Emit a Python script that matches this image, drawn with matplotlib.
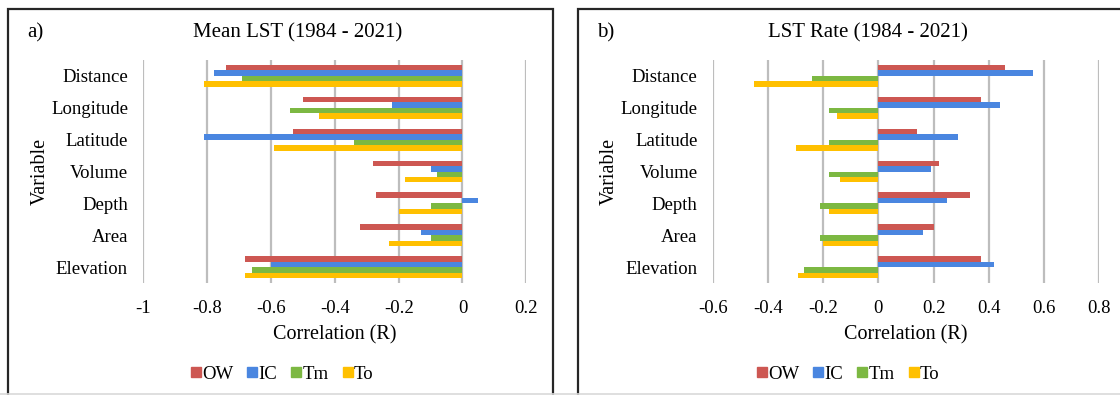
import numpy as np
import matplotlib
matplotlib.use("Agg")
import matplotlib.pyplot as plt
from matplotlib.patches import Rectangle
from matplotlib.lines import Line2D

plt.rcParams['font.family'] = ['Liberation Serif', 'DejaVu Serif']

# categories, top to bottom as in the chart
variables = ["Distance", "Longitude", "Latitude", "Volume", "Depth", "Area", "Elevation"]
series = ["OW", "IC", "Tm", "To"]
colors = ["#CD5752", "#4A86E0", "#7CB842", "#FFC000"]

# a) Mean LST correlation
mean_ow = [-0.74, -0.50, -0.53, -0.28, -0.27, -0.32, -0.68]
mean_ic = [-0.78, -0.22, -0.81, -0.10, 0.05, -0.13, -0.60]
mean_tm = [-0.69, -0.54, -0.34, -0.08, -0.10, -0.10, -0.66]
mean_to = [-0.81, -0.45, -0.59, -0.18, -0.20, -0.23, -0.68]

# b) LST rate correlation
rate_ow = [0.46, 0.37, 0.14, 0.22, 0.33, 0.20, 0.37]
rate_ic = [0.56, 0.44, 0.29, 0.19, 0.25, 0.16, 0.42]
rate_tm = [-0.24, -0.18, -0.18, -0.18, -0.21, -0.21, -0.27]
rate_to = [-0.45, -0.15, -0.30, -0.14, -0.18, -0.20, -0.29]

mean_ticks = [-1, -0.8, -0.6, -0.4, -0.2, 0, 0.2]
rate_ticks = [-0.6, -0.4, -0.2, 0, 0.2, 0.4, 0.6, 0.8]


def draw_panel(ax, data, ticks, title_x, title, letter_x, letter):
  n = len(variables)
  y = np.arange(n)[::-1]
  h = 0.172
  for k in range(len(series)):
    off = (1.5 - k) * h
    ax.barh(y + off, data[k], height=h, color=colors[k], linewidth=0, zorder=3)
  ax.set_xlim(ticks[0], ticks[-1])
  ax.set_ylim(-0.5, n - 0.5)
  ax.set_xticks(ticks)
  ax.set_xticklabels(["%g" % t for t in ticks])
  ax.set_yticks(y)
  ax.set_yticklabels(variables)
  ax.tick_params(length=0, labelsize=13.5)
  ax.tick_params(axis='x', pad=12)
  ax.tick_params(axis='y', pad=11)
  for s in ax.spines.values():
    s.set_visible(False)
  ax.grid(axis='x', color='#BDBDBD', linewidth=1.6, zorder=0)
  ax.set_xlabel("Correlation (R)", fontsize=14.5, labelpad=6)
  ax.set_ylabel("Variable", fontsize=14.5, labelpad=1)
  fig.text(title_x, 1 - 33 / 395., title, fontsize=15, ha='center', va='center')
  fig.text(letter_x, 1 - 33 / 395., letter, fontsize=15, ha='center', va='center')


fig = plt.figure(figsize=(11.2, 3.95), dpi=100)

ax1 = fig.add_axes([143.3 / 1120, 1 - 283 / 395., 383 / 1120, 223 / 395.])
ax2 = fig.add_axes([712.7 / 1120, 1 - 283 / 395., 386.6 / 1120, 223 / 395.])

draw_panel(ax1, [mean_ow, mean_ic, mean_tm, mean_to], mean_ticks, 298 / 1120, "Mean LST (1984 - 2021)", 35 / 1120, "a)")
draw_panel(ax2, [rate_ow, rate_ic, rate_tm, rate_to], rate_ticks, 868 / 1120, "LST Rate (1984 - 2021)", 606 / 1120, "b)")

# legends centred in each frame
handles = [Line2D([], [], marker='s', linestyle='', markersize=7.5, color=c) for c in colors]
for cx in [282 / 1120, 848 / 1120]:
  fig.legend(handles, series, loc='center', bbox_to_anchor=(cx, 1 - 374 / 395.), ncol=4,
             frameon=False, fontsize=13.5, handlelength=0.55, handletextpad=0.05,
             columnspacing=0.75)

# outer frames (bottom edge runs off the image)
fig.patches.append(Rectangle((8 / 1120, -0.05), 545 / 1120, 1.05 - 9 / 395., fill=False,
                             edgecolor='#262626', linewidth=1.6, transform=fig.transFigure))
fig.patches.append(Rectangle((578 / 1120, -0.05), 0.6, 1.05 - 9 / 395., fill=False,
                             edgecolor='#262626', linewidth=1.6, transform=fig.transFigure))
fig.lines.append(Line2D([0, 1], [0.8 / 395, 0.8 / 395], color='#D9D9D9', linewidth=1.2,
                        transform=fig.transFigure))

fig.savefig("out.png", dpi=100)
